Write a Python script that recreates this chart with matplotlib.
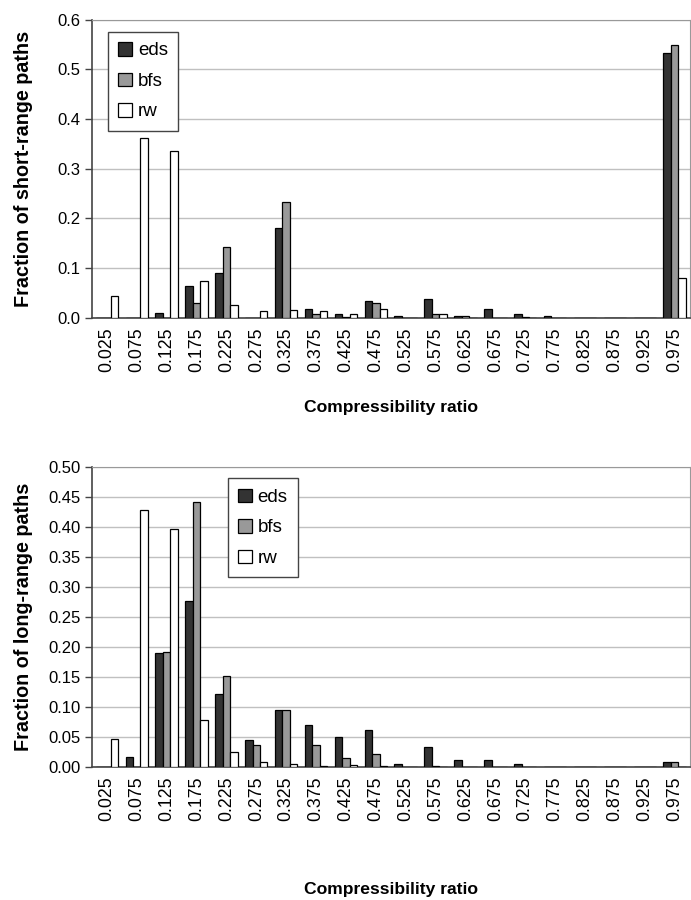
import numpy as np
import matplotlib
matplotlib.use("Agg")
import matplotlib.pyplot as plt

plt.rcParams['font.family'] = ['Liberation Sans', 'DejaVu Sans']

# category labels (compressibility ratio bins)
ratios = ["0.025", "0.075", "0.125", "0.175", "0.225", "0.275", "0.325",
          "0.375", "0.425", "0.475", "0.525", "0.575", "0.625", "0.675",
          "0.725", "0.775", "0.825", "0.875", "0.925", "0.975"]

# short-range paths
short_eds = [0.0, 0.0, 0.010, 0.063, 0.090, 0.0, 0.180, 0.017, 0.007, 0.034,
             0.003, 0.037, 0.003, 0.017, 0.007, 0.003, 0.0, 0.0, 0.0, 0.533]
short_bfs = [0.0, 0.0, 0.0, 0.030, 0.143, 0.0, 0.233, 0.008, 0.002, 0.030,
             0.0, 0.008, 0.003, 0.0, 0.002, 0.0, 0.0, 0.0, 0.0, 0.550]
short_rw = [0.043, 0.362, 0.335, 0.073, 0.026, 0.014, 0.015, 0.014, 0.007, 0.017,
            0.0, 0.008, 0.0, 0.0, 0.0, 0.0, 0.0, 0.0, 0.0, 0.080]

# long-range paths
long_eds = [0.0, 0.017, 0.190, 0.277, 0.122, 0.045, 0.094, 0.070, 0.050, 0.061,
            0.005, 0.033, 0.011, 0.011, 0.005, 0.0, 0.0, 0.0, 0.0, 0.008]
long_bfs = [0.0, 0.0, 0.191, 0.441, 0.152, 0.036, 0.094, 0.036, 0.014, 0.022,
            0.0, 0.002, 0.0, 0.0, 0.0, 0.0, 0.0, 0.0, 0.0, 0.008]
long_rw = [0.047, 0.428, 0.397, 0.078, 0.025, 0.008, 0.005, 0.002, 0.003, 0.002,
           0.0, 0.0, 0.0, 0.0, 0.0, 0.0, 0.0, 0.0, 0.0, 0.0]

series_names = ["eds", "bfs", "rw"]
colors = ["#333333", "#999999", "#ffffff"]


def draw_panel(ax, series, ymax, ystep, yfmt, ylabel, legend_xy, xlabel_y):
    x = np.arange(len(ratios))
    w = 0.25
    for k, (vals, name, c) in enumerate(zip(series, series_names, colors)):
        ax.bar(x + (k - 1) * w, vals, width=w, color=c, edgecolor="black",
               linewidth=0.9, label=name, zorder=3)
    ax.set_xlim(-0.5, len(ratios) - 0.5)
    ax.set_ylim(0, ymax)
    yt = np.arange(0, ymax + ystep / 2, ystep)
    ax.set_yticks(yt)
    ax.set_yticklabels([yfmt.format(v) for v in yt], fontsize=12)
    ax.set_xticks(x)
    ax.set_xticklabels(ratios, rotation=90, fontsize=12.8)
    ax.tick_params(axis="x", length=0, pad=7)
    ax.tick_params(axis="y", length=5, width=1, color="#444444", pad=3)
    ax.yaxis.grid(True, color="#c0c0c0", linewidth=1, zorder=0)
    ax.set_axisbelow(True)
    for s in ["top", "right"]:
        ax.spines[s].set_color("#999999")
    for s in ["left", "bottom"]:
        ax.spines[s].set_color("#444444")
        ax.spines[s].set_linewidth(1.2)
    ax.set_ylabel(ylabel, fontsize=14.2, fontweight="bold")
    ax.yaxis.set_label_coords(-0.099, 0.5)
    ax.set_xlabel("Compressibility ratio", fontsize=12.6, fontweight="bold")
    ax.xaxis.set_label_coords(0.5, xlabel_y)
    ax.xaxis.label.set_va("top")
    leg = ax.legend(loc="upper left", bbox_to_anchor=legend_xy, fontsize=13.5,
                    fancybox=False, edgecolor="#444444", framealpha=1,
                    handlelength=0.75, handleheight=0.75, handletextpad=0.3,
                    labelspacing=0.7, borderpad=0.55, borderaxespad=0)
    leg.get_frame().set_linewidth(1.0)


fig = plt.figure(figsize=(6.91, 9.0), dpi=100)
ax1 = fig.add_axes([0.133, 0.647, 0.865, 0.331])
ax2 = fig.add_axes([0.133, 0.148, 0.865, 0.333])

draw_panel(ax1, [short_eds, short_bfs, short_rw], 0.6, 0.1, "{:.1f}",
           "Fraction of short-range paths", (0.027, 0.96), -0.275)
draw_panel(ax2, [long_eds, long_bfs, long_rw], 0.5, 0.05, "{:.2f}",
           "Fraction of long-range paths", (0.227, 0.963), -0.385)

fig.savefig("out.png", dpi=100)
